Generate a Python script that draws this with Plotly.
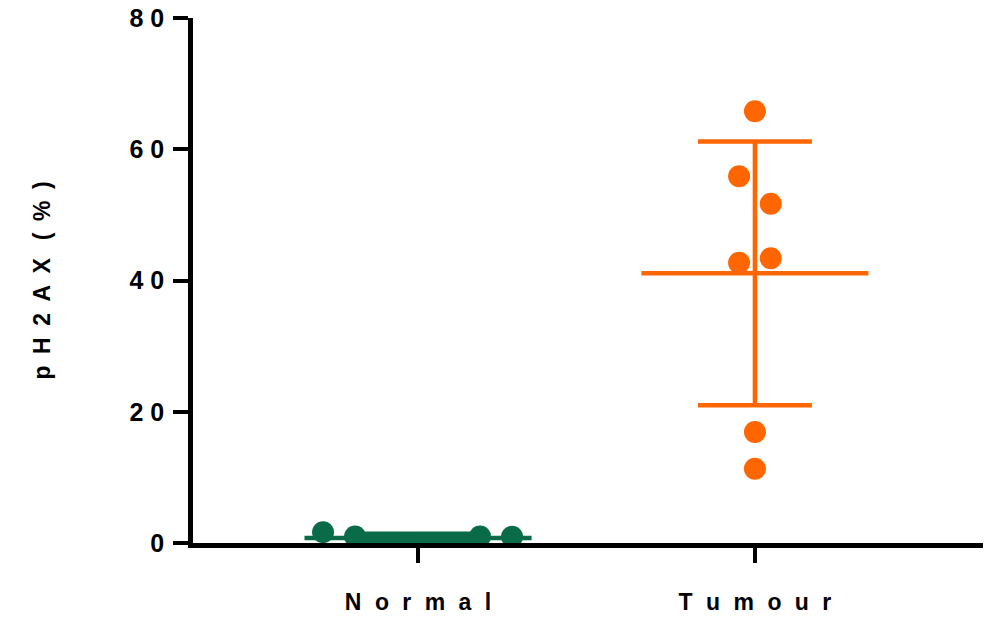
import numpy as np
import plotly.graph_objects as go

categories = ["Normal", "Tumour"]
normal_values = [1.65, 1.0, 0.0, 0.0, 1.0, 0.95]
tumour_values = [65.8, 55.9, 51.7, 42.7, 43.4, 16.9, 11.3]
y_ticks = [0, 20, 40, 60, 80]

# horizontal scatter offsets (layout only)
normal_offsets = [-0.282, -0.187, -0.06, 0.06, 0.184, 0.279]
tumour_offsets = [0.0, -0.047, 0.047, -0.047, 0.047, 0.0, 0.0]

colors = ["#096B47", "#FF6600"]
groups = [normal_values, tumour_values]
offsets = [normal_offsets, tumour_offsets]

SP = "\u2002\u200a"
def spaced(s, sep):
    return sep.join(list(s))

fig = go.Figure()
for i, (vals, offs, col) in enumerate(zip(groups, offsets, colors)):
    c = i + 1
    m = float(np.mean(vals))
    sd = float(np.std(vals, ddof=1))
    # mean line
    fig.add_trace(go.Scatter(x=[c - 0.337, c + 0.337], y=[m, m], mode="lines",
                             line=dict(color=col, width=4.5), showlegend=False,
                             hoverinfo="skip"))
    # SD error bar
    fig.add_trace(go.Scatter(x=[c], y=[m], mode="markers",
                             marker=dict(size=1, color=col, opacity=0),
                             error_y=dict(type="data", array=[sd], visible=True,
                                          color=col, thickness=4.5, width=57),
                             showlegend=False))
    # points
    fig.add_trace(go.Scatter(x=[c + o for o in offs], y=vals, mode="markers",
                             marker=dict(size=22, color=col, line=dict(width=0)),
                             showlegend=False))

fig.add_annotation(text="<b>" + spaced("pH2AX", "\u2002") + "\u2002 " + spaced("(%)", "\u2002") + "</b>",
                   xref="paper", yref="paper", x=-(193 - 41) / 790, y=0.5,
                   xanchor="center", yanchor="middle", textangle=-90, showarrow=False,
                   font=dict(family="Liberation Sans, Arial", size=23, color="black"))

fig.update_layout(
    width=992, height=617,
    margin=dict(l=193, r=9, t=18, b=74, autoexpand=False),
    paper_bgcolor="white", plot_bgcolor="white",
    font=dict(family="Liberation Sans, Arial", color="black"),
    xaxis=dict(range=[0.332, 2.677], tickvals=[1, 2],
               ticktext=["<b>" + spaced(c, SP) + "</b>" for c in categories],
               tickfont=dict(size=23, family="Liberation Sans, Arial", color="black"),
               showline=True, linecolor="black", linewidth=4.5,
               ticks="outside", ticklen=15, tickwidth=4, tickcolor="black",
               ticklabelstandoff=20, automargin=False, ticklabeloverflow="allow",
               showgrid=False, zeroline=False),
    yaxis=dict(range=[0, 80], tickvals=y_ticks,
               ticktext=["<b>" + spaced(str(v), " ") + "</b>" for v in y_ticks],
               tickfont=dict(size=25, family="Liberation Sans, Arial", color="black"),
               showline=True, linecolor="black", linewidth=4.5,
               ticks="outside", ticklen=15, tickwidth=4, tickcolor="black",
               ticklabelstandoff=4, automargin=False, ticklabeloverflow="allow",
               showgrid=False, zeroline=False),
)

fig.write_html("out.html", config={"displayModeBar": False},
               post_script="document.body.style.margin='0';")
